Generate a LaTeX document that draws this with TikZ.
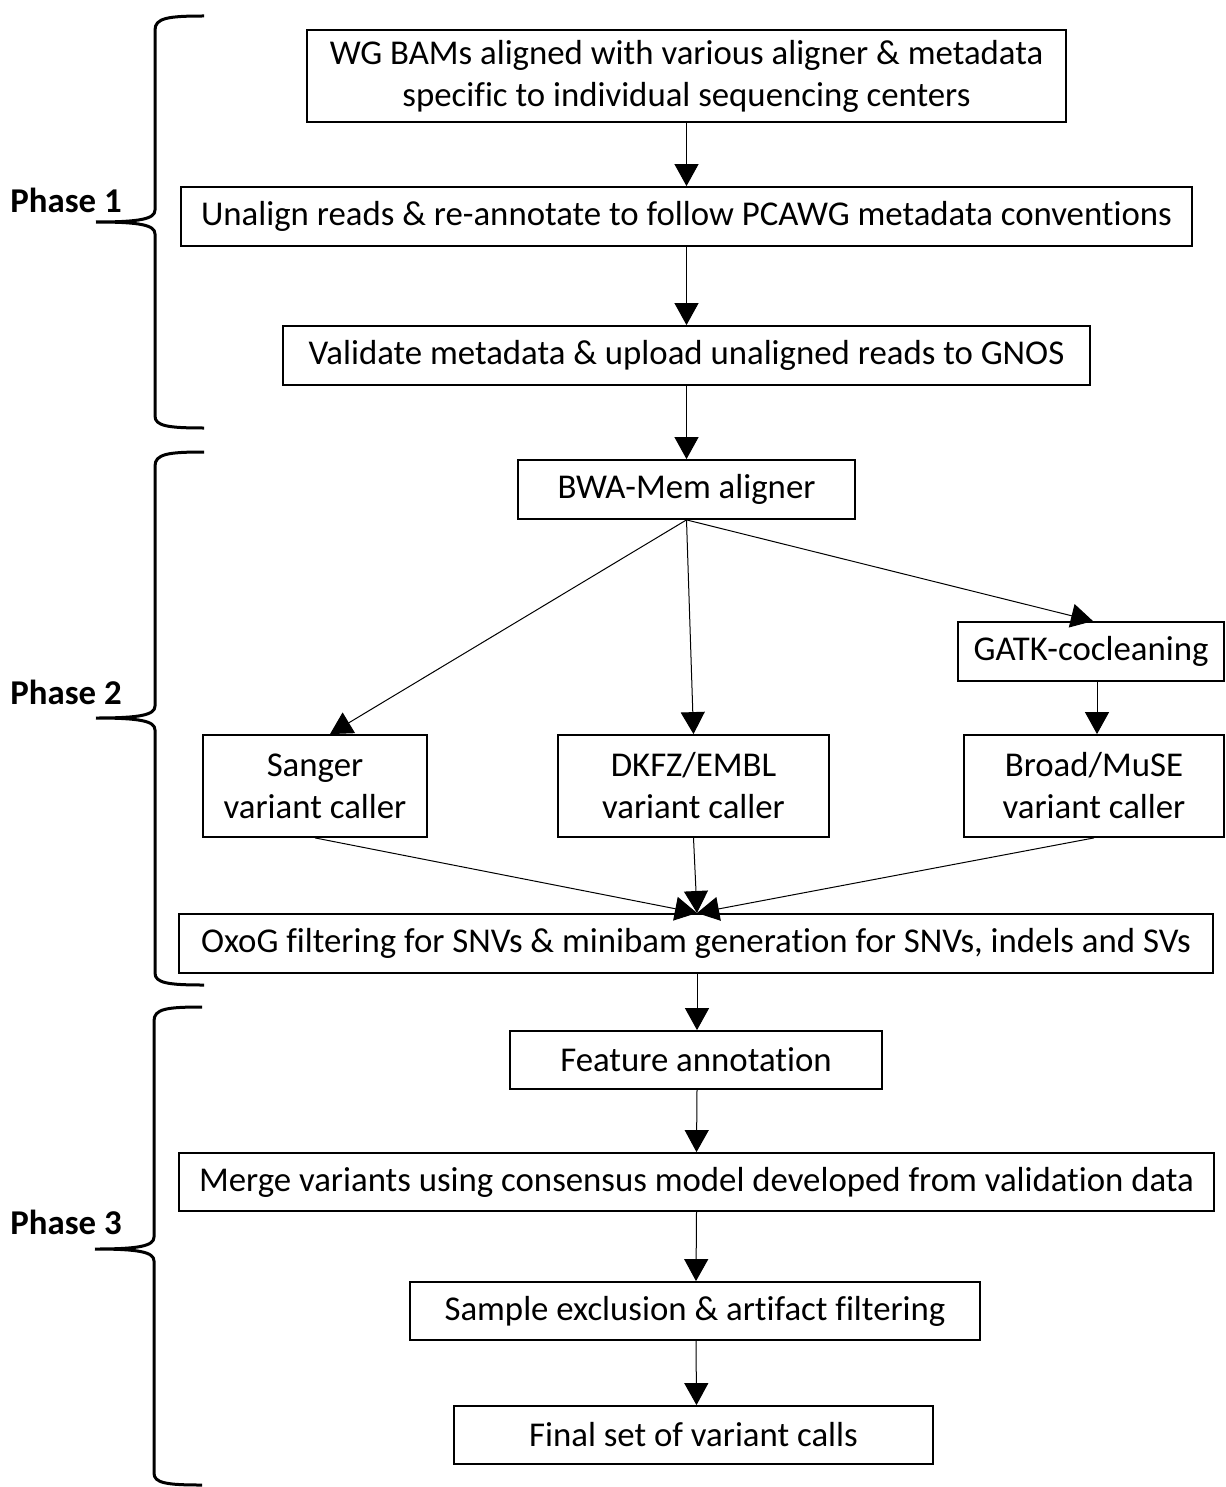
\documentclass[tikz,border=0pt]{standalone}
\usepackage{fontspec}
\setmainfont[Ligatures=NoCommon]{Carlito}
\usetikzlibrary{arrows.meta}
\begin{document}
\begin{tikzpicture}[x=0.5pt,y=-0.5pt,
  box/.style={draw,line width=0.9pt,inner sep=0pt,align=center,font=\fontsize{17.4}{21}\selectfont},
  conn/.style={line width=0.5pt,-{Triangle[width=12pt,length=11pt]}},
  brace/.style={line width=1.5pt},
  phase/.style={font=\fontsize{17.4}{20}\selectfont\bfseries,anchor=west,inner sep=0pt}]
\useasboundingbox (0,0) rectangle (1225,1487);
% boxes
\node[box,minimum width=379.5pt,minimum height=46pt] (b1) at (686.5,76) {WG BAMs aligned with various aligner \& metadata\\specific to individual sequencing centers};
\node[box,minimum width=505.5pt,minimum height=29.5pt] (b2) at (686.5,216.5) {Unalign reads \& re-annotate to follow PCAWG metadata conventions};
\node[box,minimum width=403.5pt,minimum height=29.5pt] (b3) at (686.5,355.5) {Validate metadata \& upload unaligned reads to GNOS};
\node[box,minimum width=168.5pt,minimum height=29.5pt] (b4) at (686.5,489.5) {BWA-Mem aligner};
\node[box,minimum width=133pt,minimum height=29.5pt] (gatk) at (1091,651.5) {GATK-cocleaning};
\node[box,minimum width=112pt,minimum height=51pt] (sanger) at (315,786) {Sanger\\variant caller};
\node[box,minimum width=135.5pt,minimum height=51pt] (dkfz) at (693.5,786) {DKFZ/EMBL\\variant caller};
\node[box,minimum width=130pt,minimum height=51pt] (broad) at (1094,786) {Broad/MuSE\\variant caller};
\node[box,minimum width=517pt,minimum height=29.5pt] (oxog) at (696,943.5) {OxoG filtering for SNVs \& minibam generation for SNVs, indels and SVs};
\node[box,minimum width=186pt,minimum height=29pt] (feat) at (696,1060) {Feature annotation};
\node[box,minimum width=517.5pt,minimum height=29pt] (merge) at (696.5,1182) {Merge variants using consensus model developed from validation data};
\node[box,minimum width=285pt,minimum height=29pt] (samp) at (695,1311) {Sample exclusion \& artifact filtering};
\node[box,minimum width=239.5pt,minimum height=29pt] (final) at (693.5,1435) {Final set of variant calls};
% connectors
\coordinate (conv) at (697,913);
\draw[conn] (b1.south) -- (b2.north);
\draw[conn] (b2.south) -- (b3.north);
\draw[conn] (b3.south) -- (b4.north);
\draw[conn] (b4.south) -- ([xshift=7.5pt]sanger.north);
\draw[conn] (b4.south) -- (dkfz.north);
\draw[conn] (b4.south) -- ([xshift=1pt]gatk.north);
\draw[conn] ([xshift=3pt]gatk.south) -- ([xshift=1.5pt]broad.north);
\draw[conn] (sanger.south) -- (conv);
\draw[conn] (dkfz.south) -- (conv);
\draw[conn] (broad.south) -- (conv);
\draw[conn] ([xshift=0.5pt]oxog.south) -- ([xshift=0.5pt]feat.north);
\draw[conn] ([xshift=0.5pt]feat.south) -- (merge.north);
\draw[conn] (merge.south) -- ([xshift=0.5pt]samp.north);
\draw[conn] ([xshift=0.5pt]samp.south) -- ([xshift=1.5pt]final.north);
% braces
\draw[brace] (204,16) .. controls (168,16) and (155,18) .. (155,30) -- (155,210)
  .. controls (155,219) and (140,222) .. (96,222)
  (96,222) .. controls (140,222) and (155,225) .. (155,234) -- (155,416)
  .. controls (155,426) and (168,428) .. (204,428);
\draw[brace] (204,452) .. controls (168,452) and (155,454) .. (155,466) -- (155,706)
  .. controls (155,715) and (140,718) .. (96,718)
  (96,718) .. controls (140,718) and (155,721) .. (155,730) -- (155,973)
  .. controls (155,983) and (168,985) .. (204,985);
\draw[brace] (202,1007) .. controls (166,1007) and (154,1009) .. (154,1021) -- (154,1237)
  .. controls (154,1246) and (139,1249) .. (95,1249)
  (95,1249) .. controls (139,1249) and (154,1252) .. (154,1261) -- (154,1473)
  .. controls (154,1483) and (166,1485) .. (202,1485);
% phase labels
\node[phase] (p1) at (10,200) {Phase 1};
\node[phase] (p2) at (10,692) {Phase 2};
\node[phase] (p3) at (10,1222) {Phase 3};
\end{tikzpicture}
\end{document}
